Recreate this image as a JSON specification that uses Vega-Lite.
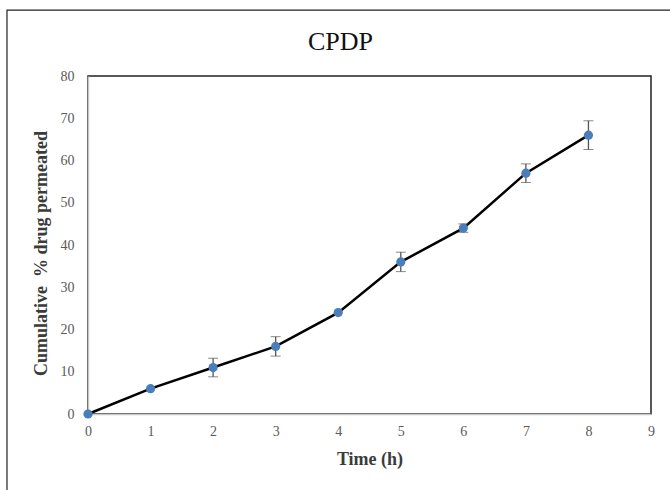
{
  "$schema": "https://vega.github.io/schema/vega-lite/v6.json",
  "autosize": "none",
  "width": 563,
  "height": 338,
  "padding": {"left": 88, "top": 76, "right": 19, "bottom": 76},
  "background": "white",
  "title": {"text": "CPDP", "font": "Liberation Serif", "fontSize": 26, "fontWeight": "normal", "color": "#111111", "anchor": "middle", "offset": 0, "dy": 46, "dx": -29},
  "data": {"values": [
    {"t": 0, "v": 0, "sd": 0},
    {"t": 1, "v": 6, "sd": 0.4},
    {"t": 2, "v": 11, "sd": 2.2},
    {"t": 3, "v": 16, "sd": 2.3},
    {"t": 4, "v": 24, "sd": 0.4},
    {"t": 5, "v": 36, "sd": 2.3},
    {"t": 6, "v": 44, "sd": 1.0},
    {"t": 7, "v": 57, "sd": 2.2},
    {"t": 8, "v": 66, "sd": 3.4}
  ]},
  "transform": [
    {"calculate": "datum.v - datum.sd", "as": "lo"},
    {"calculate": "datum.v + datum.sd", "as": "hi"}
  ],
  "layer": [
    {
      "mark": {"type": "rect", "fill": null, "stroke": "#222222", "strokeWidth": 1.2, "clip": false},
      "encoding": {
        "x": {"datum": -1.295, "type": "quantitative"},
        "x2": {"datum": 12},
        "y": {"datum": 95.6, "type": "quantitative"},
        "y2": {"datum": -40}
      },
      "transform": [{"filter": "datum.t == 0"}]
    },
    {
      "mark": {"type": "line", "color": "black", "strokeWidth": 2.5, "interpolate": "linear"},
      "encoding": {
        "x": {"field": "t", "type": "quantitative", "scale": {"domain": [0, 9], "nice": false}, "axis": {"title": "Time (h)", "values": [0,1,2,3,4,5,6,7,8,9], "format": "d", "grid": false, "ticks": false, "labelFlush": false, "labelPadding": 10, "titlePadding": 12}},
        "y": {"field": "v", "type": "quantitative", "scale": {"domain": [0, 80], "nice": false}, "axis": {"title": "Cumulative \u00a0% drug permeated", "values": [0,10,20,30,40,50,60,70,80], "format": "d", "grid": false, "ticks": false, "labelFlush": false, "labelPadding": 14, "titlePadding": 10, "titleY": 177}}
      }
    },
    {
      "mark": {"type": "errorbar", "ticks": {"size": 10, "color": "#555555"}, "rule": {"color": "#555555", "strokeWidth": 1.3}},
      "transform": [{"filter": "datum.sd > 0.5"}],
      "encoding": {
        "x": {"field": "t", "type": "quantitative", "title": "Time (h)"},
        "y": {"field": "lo", "type": "quantitative", "title": "Cumulative \u00a0% drug permeated"},
        "y2": {"field": "hi"}
      }
    },
    {
      "mark": {"type": "circle", "color": "#4a7ebb", "opacity": 1, "size": 85},
      "encoding": {
        "x": {"field": "t", "type": "quantitative", "title": "Time (h)"},
        "y": {"field": "v", "type": "quantitative", "title": "Cumulative \u00a0% drug permeated"}
      }
    }
  ],
  "config": {
    "view": {"stroke": "#222222", "strokeWidth": 1.5},
    "axis": {
      "domainColor": "#c8c8c8",
      "domainWidth": 1.5,
      "labelFont": "Liberation Serif",
      "labelFontSize": 14,
      "labelColor": "#595959",
      "titleFont": "Liberation Serif",
      "titleFontSize": 18,
      "titleFontWeight": "bold",
      "titleColor": "#3b3b3b"
    }
  }
}
